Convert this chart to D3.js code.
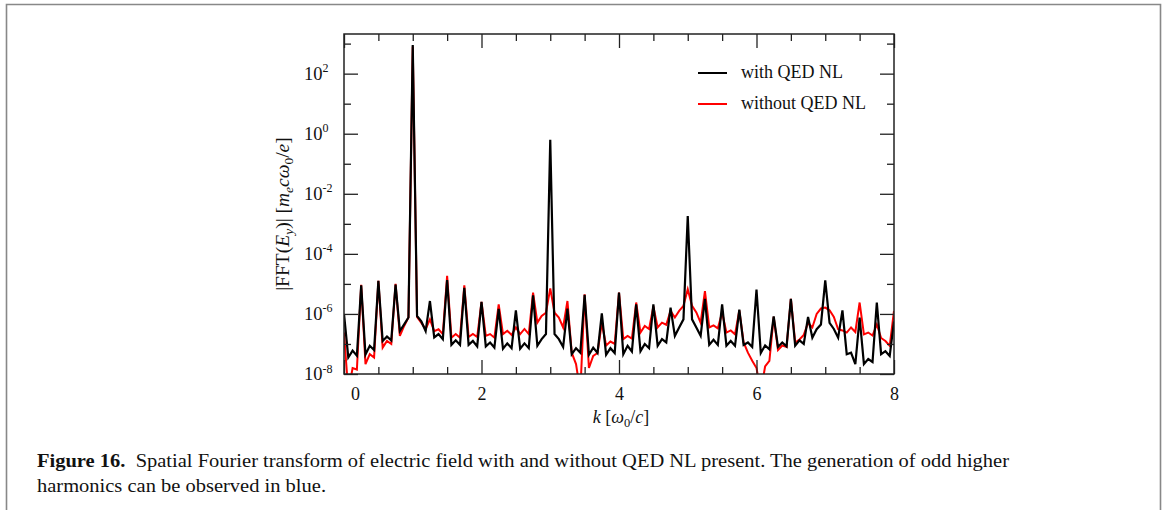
<!DOCTYPE html>
<html>
<head>
<meta charset="utf-8">
<script src="https://cdn.jsdelivr.net/npm/d3@7"></script>
<style>
  html, body { margin: 0; padding: 0; background: #fff; }
  svg { display: block; }
  text { font-family: "Liberation Serif", "DejaVu Serif", serif; fill: #111; }
</style>
</head>
<body>
<svg id="chart" width="1165" height="510"></svg>
<script>
// ---------------- data ----------------
// wavenumber grid k [omega0/c]
const kGrid = d3.range(0, 129).map(i => i / 16);

// log10 |FFT(Ey)| with QED NL (black)
const withQED = [
  -6.00, -7.45, -7.22, -7.39,   -5.05, -7.35, -7.06, -7.20,
  -4.90, -6.90, -6.75, -6.88,   -5.02, -6.57, -6.35, -6.12,
   2.95, -6.07, -6.25, -6.57,   -5.57, -6.78, -6.67, -6.84,
  -4.87, -7.03, -6.88, -7.03,   -5.13, -7.03, -6.90, -7.08,
  -5.60, -7.08, -6.95, -7.12,   -5.83, -7.16, -6.98, -7.14,
  -5.88, -7.16, -6.98, -7.14,   -5.38, -7.06, -6.84, -6.67,
  -0.20, -6.67, -6.84, -7.10,   -5.82, -7.34, -7.14, -7.29,
  -5.36, -7.36, -7.12, -7.30,   -5.98, -7.36, -7.14, -7.30,
  -5.29, -7.34, -7.06, -7.25,   -5.68, -7.24, -7.00, -7.14,
  -5.68, -7.06, -6.84, -6.95,   -5.79, -6.73, -6.45, -6.18,
  -2.74, -6.18, -6.45, -6.73,   -5.50, -7.03, -6.86, -7.03,
  -5.68, -7.06, -6.90, -7.06,   -5.86, -7.03, -6.95, -7.10,
  -5.19, -7.30, -7.05, -7.18,   -6.08, -7.10, -6.95, -7.08,
  -5.50, -7.06, -6.88, -7.00,   -6.10, -6.79, -6.51, -6.35,
  -4.88, -6.30, -6.50, -6.79,   -5.88, -7.34, -7.29, -7.67,
  -6.12, -7.67, -7.50, -7.60,   -5.62, -7.34, -7.24, -7.40,
  -6.25
];

// log10 |FFT(Ey)| without QED NL (red)
const withoutQED = [
  -6.62, -8.60, -7.80, -7.85,   -5.03, -7.67, -7.34, -7.45,
  -4.90, -7.12, -6.90, -7.00,   -5.00, -6.73, -6.40, -6.12,
   2.90, -6.10, -6.30, -6.51,   -6.18, -6.57, -6.51, -6.67,
  -4.73, -6.79, -6.67, -6.79,   -5.05, -6.77, -6.67, -6.77,
  -5.60, -6.73, -6.67, -6.79,   -5.68, -6.67, -6.56, -6.70,
  -6.45, -6.67, -6.50, -6.67,   -5.29, -6.29, -6.07, -5.96,
  -5.15, -5.96, -6.12, -6.45,   -5.57, -7.29, -7.67, -8.60,
  -5.35, -7.80, -7.40, -7.30,   -6.30, -7.05, -6.92, -7.00,
  -5.29, -6.84, -6.73, -6.82,   -5.62, -6.62, -6.40, -6.50,
  -5.75, -6.45, -6.29, -6.36,   -5.90, -6.12, -5.90, -5.73,
  -5.18, -5.73, -5.95, -6.29,   -5.24, -6.45, -6.38, -6.48,
  -5.95, -6.62, -6.55, -6.68,   -5.88, -6.95, -7.29, -7.56,
  -7.80, -8.60, -7.75, -7.56,   -6.10, -7.20, -7.05, -7.10,
  -5.50, -6.95, -6.85, -6.70,   -6.30, -6.45, -6.00, -5.82,
  -5.79, -5.88, -6.10, -6.51,   -6.55, -6.62, -6.45, -6.60,
  -5.62, -6.68, -6.62, -6.72,   -6.35, -6.80, -6.90, -7.06,
  -5.90
];

const xMajorTicks = [0, 2, 4, 6, 8];
const xMinorTicks = [0.5, 1, 1.5, 2.5, 3, 3.5, 4.5, 5, 5.5, 6.5, 7, 7.5];
const yMajorExps = [-8, -6, -4, -2, 0, 2];
const yMinorExps = [-7, -5, -3, -1, 1, 3];
const seriesNames = ["with QED NL", "without QED NL"];
const seriesColors = ["#000000", "#ff0000"];

// ---------------- layout ----------------
const svg = d3.select("#chart");
const plot = { left: 344, right: 894, top: 34, bottom: 374 };

// figure border
svg.append("path")
  .attr("d", "M6.5,515 L6.5,4.5 L1160.5,4.5 L1160.5,515")
  .attr("fill", "none").attr("stroke", "#888").attr("stroke-width", 1.6);

const x = d3.scaleLinear().domain([0, 8]).range([plot.left, plot.right]);
const y = d3.scaleLog().domain([1e-8, Math.pow(10, 3.32)]).range([plot.bottom, plot.top]);

svg.append("defs").append("clipPath").attr("id", "clip")
  .append("rect").attr("x", plot.left).attr("y", plot.top)
  .attr("width", plot.right - plot.left).attr("height", plot.bottom - plot.top);

const toSeries = arr => arr.map((v, i) => ({ k: kGrid[i], v: Math.pow(10, v) }));
const line = d3.line().x(d => x(d.k)).y(d => y(d.v));

const g = svg.append("g").attr("clip-path", "url(#clip)");
g.append("path").datum(toSeries(withoutQED))
  .attr("d", line).attr("fill", "none").attr("stroke", seriesColors[1])
  .attr("stroke-width", 2).attr("stroke-linejoin", "miter");
g.append("path").datum(toSeries(withQED))
  .attr("d", line).attr("fill", "none").attr("stroke", seriesColors[0])
  .attr("stroke-width", 2.2).attr("stroke-linejoin", "miter");

// ---------------- axes ----------------
const axisColor = "#222";
function styleAxis(sel) {
  sel.select(".domain").remove();
  sel.selectAll(".tick line").attr("stroke", axisColor).attr("stroke-width", 1.3);
}
// bottom
svg.append("g").attr("transform", `translate(0,${plot.bottom})`)
  .call(d3.axisBottom(x).tickValues(xMajorTicks).tickSize(-14).tickPadding(13).tickFormat(d3.format("d")))
  .call(styleAxis)
  .call(s => s.selectAll(".tick text").attr("font-size", 18)
    .attr("font-family", "Liberation Serif").attr("fill", "#111")
    .attr("dx", d => d === 0 ? 11 : 0));
svg.append("g").attr("transform", `translate(0,${plot.bottom})`)
  .call(d3.axisBottom(x).tickValues(xMinorTicks).tickSize(-7).tickFormat(""))
  .call(styleAxis);
// top
svg.append("g").attr("transform", `translate(0,${plot.top})`)
  .call(d3.axisTop(x).tickValues(xMajorTicks).tickSize(-14).tickFormat(""))
  .call(styleAxis);
svg.append("g").attr("transform", `translate(0,${plot.top})`)
  .call(d3.axisTop(x).tickValues(xMinorTicks).tickSize(-7).tickFormat(""))
  .call(styleAxis);
// left
svg.append("g").attr("transform", `translate(${plot.left},0)`)
  .call(d3.axisLeft(y).tickValues(yMajorExps.map(e => Math.pow(10, e))).tickSize(-14).tickFormat(""))
  .call(styleAxis);
svg.append("g").attr("transform", `translate(${plot.left},0)`)
  .call(d3.axisLeft(y).tickValues(yMinorExps.map(e => Math.pow(10, e))).tickSize(-7).tickFormat(""))
  .call(styleAxis);
// right
svg.append("g").attr("transform", `translate(${plot.right},0)`)
  .call(d3.axisRight(y).tickValues(yMajorExps.map(e => Math.pow(10, e))).tickSize(-14).tickFormat(""))
  .call(styleAxis);
svg.append("g").attr("transform", `translate(${plot.right},0)`)
  .call(d3.axisRight(y).tickValues(yMinorExps.map(e => Math.pow(10, e))).tickSize(-7).tickFormat(""))
  .call(styleAxis);

// y tick labels 10^n
yMajorExps.forEach(e => {
  const t = svg.append("text")
    .attr("x", plot.left - 40).attr("y", y(Math.pow(10, e)) + 6)
    .attr("font-size", 18.5);
  t.append("tspan").text("10");
  t.append("tspan").attr("font-size", 12).attr("dy", -7.5).text(e < 0 ? "-" + (-e) : String(e));
});

// frame
svg.append("rect")
  .attr("x", plot.left).attr("y", plot.top)
  .attr("width", plot.right - plot.left).attr("height", plot.bottom - plot.top)
  .attr("fill", "none").attr("stroke", axisColor).attr("stroke-width", 1.5);

// x label
const xl = svg.append("text").attr("x", 621).attr("y", 423)
  .attr("text-anchor", "middle").attr("font-size", 18);
xl.append("tspan").attr("font-style", "italic").text("k");
xl.append("tspan").text(" [");
xl.append("tspan").attr("font-style", "italic").text("ω");
xl.append("tspan").attr("font-size", 12.5).attr("dy", 4).text("0");
xl.append("tspan").attr("dy", -4).text("/");
xl.append("tspan").attr("font-style", "italic").text("c");
xl.append("tspan").text("]");

// y label
const yl = svg.append("text")
  .attr("transform", `translate(289,214) rotate(-90)`)
  .attr("text-anchor", "middle").attr("font-size", 19.5);
yl.append("tspan").text("|FFT(");
yl.append("tspan").attr("font-style", "italic").text("E");
yl.append("tspan").attr("font-style", "italic").attr("font-size", 13.5).attr("dy", 4).text("y");
yl.append("tspan").attr("dy", -4).text(")| [");
yl.append("tspan").attr("font-style", "italic").text("m");
yl.append("tspan").attr("font-style", "italic").attr("font-size", 13.5).attr("dy", 4).text("e");
yl.append("tspan").attr("font-style", "italic").attr("dy", -4).text("cω");
yl.append("tspan").attr("font-size", 13.5).attr("dy", 4).text("0");
yl.append("tspan").attr("dy", -4).text("/");
yl.append("tspan").attr("font-style", "italic").text("e");
yl.append("tspan").text("]");

// legend
const legendY = [73, 104];
seriesNames.forEach((name, i) => {
  svg.append("line").attr("x1", 698).attr("x2", 727)
    .attr("y1", legendY[i]).attr("y2", legendY[i])
    .attr("stroke", seriesColors[i]).attr("stroke-width", 2);
  svg.append("text").attr("x", 741).attr("y", legendY[i] + 5)
    .attr("font-size", 18).text(name);
});

// caption
const capSize = 19.5;
const cap1 = svg.append("text").attr("x", 37).attr("y", 467).attr("font-size", capSize);
cap1.append("tspan").attr("font-weight", "bold").text("Figure 16.");
cap1.append("tspan").text("\u00a0\u00a0Spatial Fourier transform of electric field with and without QED NL present. The generation of odd higher");
const cap2 = svg.append("text").attr("x", 37).attr("y", 492).attr("font-size", capSize)
  .text("harmonics can be observed in blue.");
// condense caption to the reference line length
const w1 = cap1.node().getComputedTextLength();
const w2 = cap2.node().getComputedTextLength();
const ratio = 972 / w1;
cap1.attr("textLength", 972).attr("lengthAdjust", "spacingAndGlyphs");
cap2.attr("textLength", w2 * ratio).attr("lengthAdjust", "spacingAndGlyphs");
</script>
</body>
</html>
